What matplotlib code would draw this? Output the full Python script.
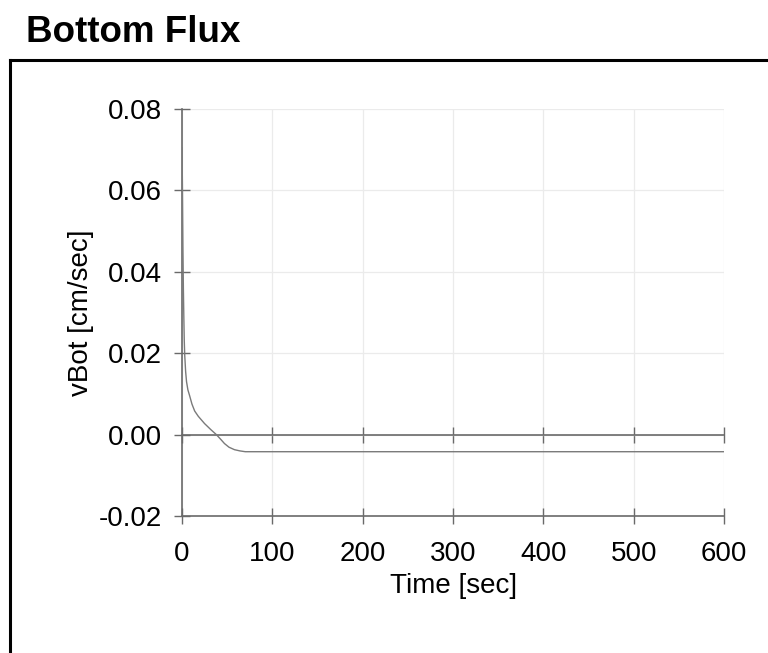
import numpy as np
import matplotlib
matplotlib.use("Agg")
import matplotlib.pyplot as plt
from matplotlib.lines import Line2D

plt.rcParams['font.family'] = ['Liberation Sans', 'DejaVu Sans']

# bottom flux
time = [0, 0.5, 1, 1.5, 2, 2.5, 3, 4, 5, 6.5, 8.5, 11, 14, 18, 25, 32, 38,
        43, 47, 52, 58, 64, 70, 100, 200, 300, 400, 500, 600]
vbot = [0.0705, 0.060, 0.046, 0.036, 0.029, 0.023, 0.0195, 0.0155, 0.013,
        0.011, 0.0095, 0.0075, 0.0058, 0.0045, 0.0027, 0.0012, 0.0,
        -0.0012, -0.0022, -0.0031, -0.0037, -0.0040, -0.0042, -0.0042,
        -0.0042, -0.0042, -0.0042, -0.0042, -0.0042]

xticks = [0, 100, 200, 300, 400, 500, 600]
yticks = [-0.02, 0.0, 0.02, 0.04, 0.06, 0.08]

fig = plt.figure(figsize=(7.68, 6.53), dpi=100)
ax = fig.add_axes([0.237, 0.2098, 0.706, 0.6232])

axis_col = '#6a6a6a'
ax.plot(time, vbot, color='#7a7a7a', lw=1.0, zorder=3)

ax.set_xlim(0, 600)
ax.set_ylim(-0.02, 0.08)
ax.set_xticks(xticks)
ax.set_yticks(yticks)
ax.set_yticklabels([f'{v:.2f}' for v in yticks])
ax.grid(True, color='#ebebeb', lw=0.9)
ax.set_axisbelow(True)

# zero line carries the top ticks
ax.spines['top'].set_position(('data', 0))
ax.spines['right'].set_visible(False)
for s in ['left', 'bottom', 'top']:
    ax.spines[s].set_color(axis_col)
    ax.spines[s].set_linewidth(1.2)

ax.tick_params(axis='x', which='both', top=True, labeltop=False,
               direction='inout', length=12, width=1.0, color=axis_col,
               labelsize=20, pad=12)
ax.tick_params(axis='y', direction='inout', length=11, width=1.0,
               color=axis_col, labelsize=20, pad=9)

ax.set_xlabel('Time [sec]', fontsize=20, labelpad=4)
ax.set_ylabel('vBot [cm/sec]', fontsize=20, labelpad=3)

# outer frame (runs off the page on the right and bottom)
fig.add_artist(Line2D([10 / 768, 10 / 768], [0, 1 - 60 / 653],
                      color='black', lw=2.2, transform=fig.transFigure))
fig.add_artist(Line2D([10 / 768, 1], [1 - 60 / 653, 1 - 60 / 653],
                      color='black', lw=2.2, transform=fig.transFigure))

fig.text(26 / 768, 1 - 42 / 653, 'Bottom Flux', fontsize=26.5,
         fontweight='bold', ha='left', va='baseline')

fig.savefig('out.png', dpi=100)
